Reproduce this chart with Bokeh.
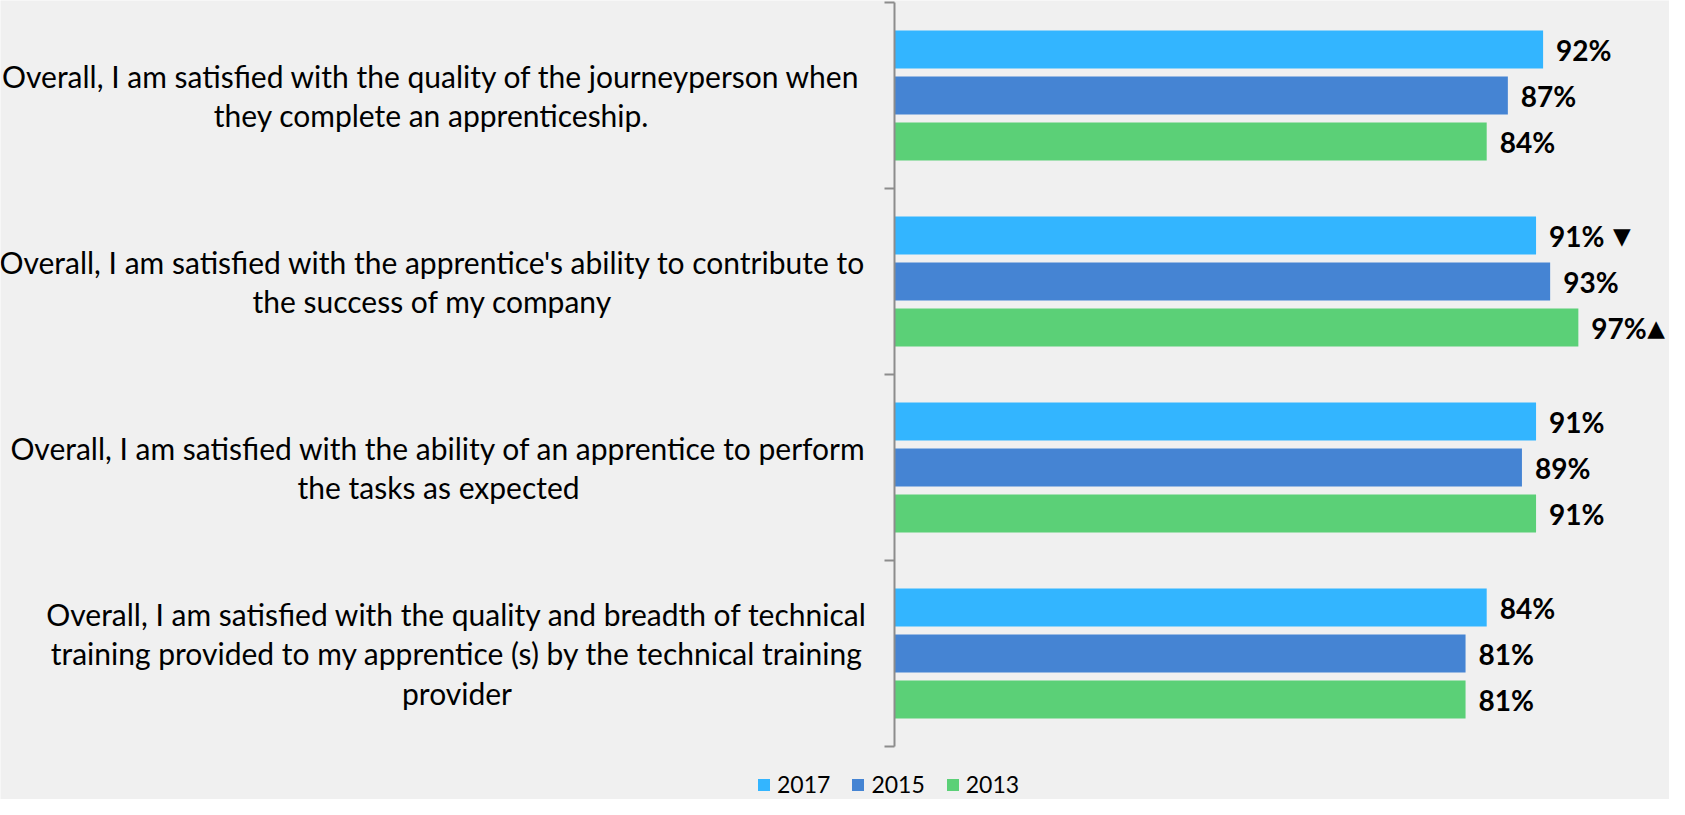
from bokeh.plotting import figure
from bokeh.models import Range1d, Legend, LegendItem, ColumnDataSource
from bokeh.core.properties import value
from bokeh.embed import file_html
from bokeh.resources import INLINE

# ---------------- data ----------------
categories = [
    "Overall, I am satisfied with the quality of the journeyperson when\nthey complete an apprenticeship.",
    "Overall, I am satisfied with the apprentice's ability to contribute to\nthe success of my company",
    "Overall, I am satisfied with the ability of an apprentice to perform\nthe tasks as expected",
    "Overall, I am satisfied with the quality and breadth of technical\ntraining provided to my apprentice (s) by the technical training\nprovider",
]
years = ["2017", "2015", "2013"]
v2017 = [92, 91, 91, 84]
v2015 = [87, 93, 89, 81]
v2013 = [84, 97, 91, 81]
marks2017 = ["", " \u25BC", "", ""]
marks2015 = ["", "", "", ""]
marks2013 = ["", "\u25B2", "", ""]

# ---------------- layout / style ----------------
W, H = 1669, 799
PX_PER = 7.05           # px per percentage point
X0 = 894                # canvas px of 0 %
PX_CAT = 186            # px per category band
TOP = 2                 # canvas px of top axis tick
BG = "#F0F0F0"
colors = ["#33B5FF", "#4584D3", "#5BD077"]
FONT = "Lato"
LAB_OFF = 13            # px gap bar end -> value label
VAL_W = 55              # approx px width of a "99%" label

x_start = -X0 / PX_PER
x_end = x_start + W / PX_PER
y_end = 4 + TOP / PX_CAT
y_start = y_end - H / PX_CAT

p = figure(width=W, height=H, output_backend="svg", toolbar_location=None,
           x_range=Range1d(x_start, x_end), y_range=Range1d(y_start, y_end),
           x_axis_location=None, y_axis_location=None, min_border=0)
p.background_fill_color = BG
p.border_fill_color = BG
p.outline_line_color = None
p.grid.visible = False

n = len(categories)
centers = [n - 0.5 - i for i in range(n)]
offsets = [46 / PX_CAT, 0.0, -46 / PX_CAT]
bar_h = 38 / PX_CAT

renderers = []
for vals, marks, off, col in zip([v2017, v2015, v2013],
                                 [marks2017, marks2015, marks2013],
                                 offsets, colors):
    ys = [c + off for c in centers]
    src = ColumnDataSource(dict(y=ys, v=vals, lab=[f"{v}%" for v in vals]))
    r = p.hbar(y="y", left=0, right="v", height=bar_h, source=src,
               fill_color=col, line_color=None)
    renderers.append(r)
    p.text(x="v", y="y", text="lab", source=src, x_offset=LAB_OFF,
           text_align="left", text_baseline="middle",
           text_font=value(FONT), text_font_style="bold",
           text_font_size="28px", text_color="#000000")
    # significance markers
    for v, m, y in zip(vals, marks, ys):
        if m.strip():
            gap = 9 if m.startswith(" ") else 1
            msrc = ColumnDataSource(dict(x=[v], y=[y], t=[m.strip()]))
            p.text(x="x", y="y", text="t", source=msrc,
                   x_offset=LAB_OFF + VAL_W + gap, text_align="left",
                   text_baseline="middle", text_font=value("DejaVu Sans"),
                   text_font_size="23px", text_color="#000000")

# category labels (multi-line, centred)
label_centers_px = [431, 432, 438, 456.5]   # px of label centre
lab_src = ColumnDataSource(dict(
    x=[(c - X0) / PX_PER for c in label_centers_px],
    y=centers,
    t=categories,
))
p.text(x="x", y="y", text="t", source=lab_src, text_align="center",
       text_baseline="middle", text_font=value(FONT), text_font_size="30px",
       text_line_height=1.1, text_color="#000000")

# vertical category axis with tick marks at band boundaries
bounds = list(range(n + 1))
p.segment(x0=[0], y0=[0], x1=[0], y1=[n], line_color="#8C8C8C", line_width=2)
p.segment(x0=[-10 / PX_PER] * len(bounds), y0=bounds, x1=[0] * len(bounds),
          y1=bounds, line_color="#8C8C8C", line_width=2)

legend = Legend(items=[LegendItem(label=y, renderers=[r]) for y, r in zip(years, renderers)],
                orientation="horizontal", location=(756, 1),
                glyph_width=15, glyph_height=15, label_standoff=6, spacing=20,
                padding=0, margin=0, border_line_alpha=0, background_fill_alpha=0,
                label_text_font=FONT, label_text_font_size="23px",
                label_text_color="#000000")
p.add_layout(legend)

open("out.html", "w").write(file_html(p, INLINE))
